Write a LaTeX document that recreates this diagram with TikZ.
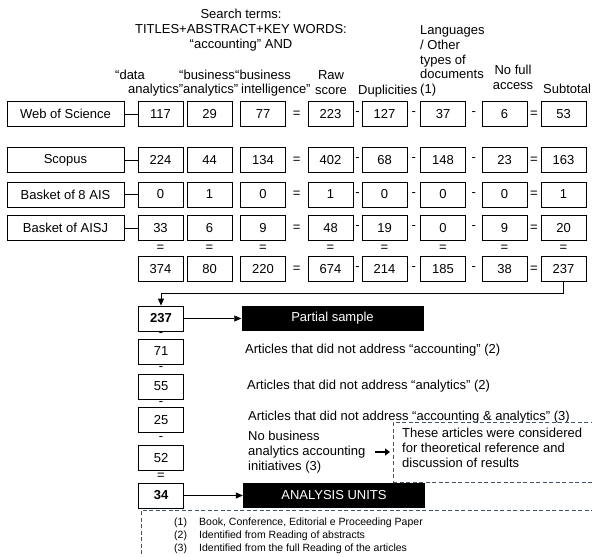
\documentclass[tikz,border=0pt]{standalone}
\usepackage{fontspec}
\setmainfont{Liberation Sans}
\usetikzlibrary{positioning,arrows.meta}
\definecolor{dashgray}{HTML}{44546A}

\tikzset{
  numbox/.style={draw,line width=0.75pt,minimum width=45pt,minimum height=25pt,inner sep=0pt},
  srcbox/.style={draw,line width=0.75pt,minimum width=117pt,minimum height=25pt,inner sep=0pt},
  blackbox/.style={fill=black,text=white,minimum width=182pt,minimum height=25pt,inner sep=0pt},
  head/.style={inner sep=0pt,align=left},
  note/.style={inner sep=0pt,align=left},
  dashbox/.style={draw=dashgray,line width=0.8pt,dash pattern=on 4pt off 2.5pt},
  link/.style={line width=0.75pt},
}

\begin{document}
\begin{tikzpicture}[x=1pt,y=-1pt,>={Triangle[length=7pt,width=6pt]},
  font=\fontsize{13}{14.75}\selectfont]
\path[use as bounding box,clip] (0,0) rectangle (592,557);

\node[head,align=center,anchor=north] (search) at (241,9) {Search terms:\\TITLES+ABSTRACT+KEY WORDS:\\“accounting” AND};

\node[head,anchor=north west] (hdata) at (115,69.6) {“data\\\hspace*{13pt}analytics”};
\node[head,anchor=north west] (hbusan) at (179,69.6) {“business\\\hspace*{4pt}analytics”};
\node[head,anchor=north west] (hbusint) at (235,69.6) {“business\\\hspace*{6pt}intelligence”};
\node[head,align=center,anchor=north] (hraw) at (331,70.6) {Raw\\score};
\node[head,anchor=north west] (hdup) at (358,84.6) {Duplicities};
\node[head,anchor=north west] (hlang) at (420,25.6) {Languages\\/ Other\\types of\\documents\\(1)};
\node[head,align=center,anchor=north] (hfull) at (513,65) {No full\\access};
\node[head,anchor=north west] (hsub) at (543,83.6) {Subtotal};

\node[srcbox] (wos) at (65.5,114) {Web of Science};
\node[srcbox] (sco) at (65.5,160) {Scopus};
\node[srcbox] (ais) at (65.5,194.5) {Basket of 8 AIS};
\node[srcbox] (aisj) at (65.5,228) {Basket of AISJ};

\def\colx{{160.5,209.5,263,330.5,384.5,443,504.5,563.5}}
\foreach \r/\y/\vals in {wos/114/{117,29,77,223,127,37,6,53},
    sco/160/{224,44,134,402,68,148,23,163},
    ais/194.5/{0,1,0,1,0,0,0,1},
    aisj/228/{33,6,9,48,19,0,9,20},
    tot/269/{374,80,220,674,214,185,38,237}}{
  \foreach \v [count=\c] in \vals {
    \pgfmathsetmacro\xx{\colx[\c-1]}
    \node[numbox] (\r-\c) at (\xx,\y) {\v};
  }
  \path (\r-3) -- node{=} (\r-4) (\r-4) -- node{-} (\r-5)
        (\r-5) -- node{-} (\r-6) (\r-6) -- node{-} (\r-7)
        (\r-7) -- node{=} (\r-8);
}
\foreach \c in {1,...,8}
  \path (aisj-\c) -- node{=} (tot-\c);
\foreach \r in {wos,sco,ais,aisj}
  \draw[link] (\r) -- (\r-1);

\node[numbox] (s237) at (161,318.5) {\textbf{237}};
\node[numbox] (s71) at (161,351.5) {71};
\node[numbox] (s55) at (161,386.5) {55};
\node[numbox] (s25) at (161,420) {25};
\node[numbox] (s52) at (161,458) {52};
\node[numbox] (s34) at (161,495.5) {\textbf{34}};
\path (s237) -- node{-} (s71) (s71) -- node{-} (s55) (s55) -- node{-} (s25)
      (s25) -- node{-} (s52) (s52) -- node{=} (s34);

\draw[link,->] (tot-8.south) -- ++(0,11) -| (s237.north);

\node[blackbox] (partial) at (332.5,318.5) {Partial sample};
\node[blackbox] (units) at (334,495.5) {ANALYSIS UNITS};
\draw[link,->] (s237) -- (partial);
\draw[link,->] (s34) -- (units);

\node[note,anchor=base west] (noacc) at (245,353) {Articles that did not address “accounting” (2)};
\node[note,anchor=base west] (noana) at (247,389) {Articles that did not address “analytics” (2)};
\node[note,anchor=base west] (noboth) at (248,420.5) {Articles that did not address “accounting \& analytics” (3)};
\node[note,anchor=north west] (nobiz) at (248,431) {No business\\analytics accounting\\initiatives (3)};

\node[dashbox,minimum width=217pt,minimum height=60pt,anchor=north west] (theory) at (393,422) {};
\node[note,anchor=north west] (theorytxt) at ([shift={(9,6)}]theory.north west) {These articles were considered\\for theoretical reference and\\discussion of results};
\draw[-{Triangle[length=5pt,width=7pt]},line width=2.5pt,shorten <=10pt,shorten >=3pt] (nobiz.east) -- (nobiz.east -| theory.west);

\node[dashbox,minimum width=470pt,minimum height=47pt,anchor=north west] (footbox) at (141,510) {};
\node[note,anchor=north west,font=\fontsize{10.5}{12.7}\selectfont] (foot) at ([shift={(33,8)}]footbox.north west)
  {(1)\hspace{12.2pt}Book, Conference, Editorial e Proceeding Paper\\(2)\hspace{12.2pt}Identified from Reading of abstracts\\(3)\hspace{12.2pt}Identified from the full Reading of the articles};
\end{tikzpicture}
\end{document}
